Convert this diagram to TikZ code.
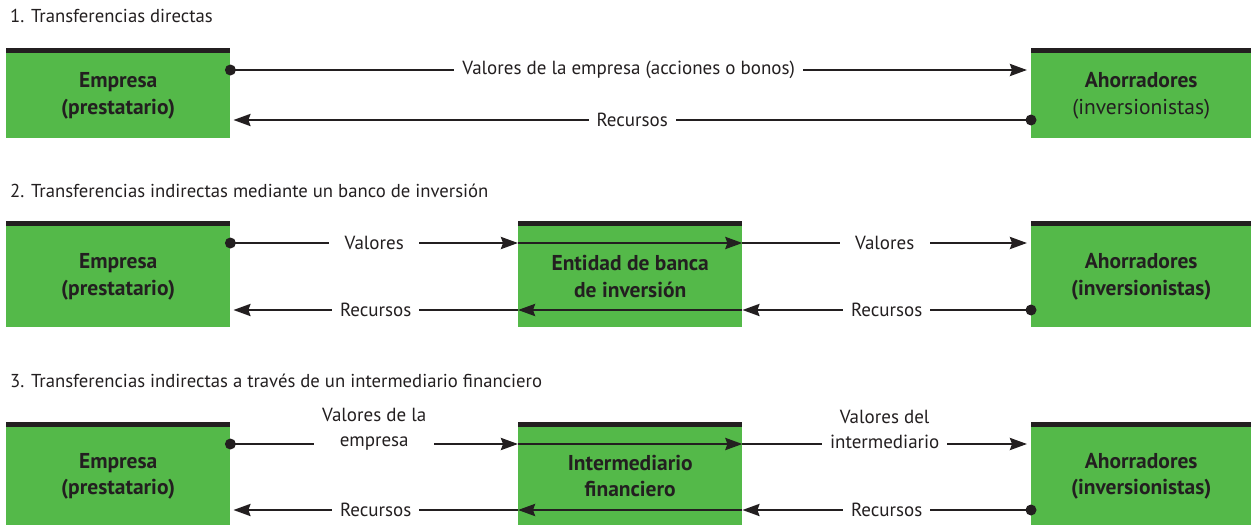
\documentclass[tikz,border=0pt]{standalone}
\usepackage{fontspec}
\setmainfont{PT Sans}
\usetikzlibrary{arrows.meta,calc}
\definecolor{gr}{RGB}{84,185,73}
\definecolor{ink}{RGB}{35,31,32}
\begin{document}
\begin{tikzpicture}[x=1pt,y=-1pt,
  box/.style={fill=gr, inner sep=0pt, align=center, anchor=north west,
    font=\fontsize{21.5}{26.5}\selectfont\bfseries, text=ink},
  lab/.style={fill=white, inner xsep=8pt, inner ysep=2pt, align=center,
    font=\fontsize{19}{25}\selectfont, text=ink},
  ttl/.style={anchor=base west, inner sep=0pt, font=\fontsize{18.7}{22}\selectfont, text=ink},
  con/.style={draw=ink, line width=2.6pt, -{Stealth[length=17pt,width=12pt,inset=2pt]}},
  dot/.style={circle, fill=ink, inner sep=0pt, minimum size=11pt}
]
\path[use as bounding box] (0,0) rectangle (1251,525);

% titles
\node[ttl] (t1) at (10,22) {1. Transferencias directas};
\node[ttl] (t2) at (10,197) {2. Transferencias indirectas mediante un banco de inversión};
\node[ttl] (t3) at (10,387) {3. Transferencias indirectas a través de un intermediario financiero};

% boxes
\node[box, minimum width=224pt, minimum height=85pt] (E1) at (6,53) {Empresa\\(prestatario)};
\node[box, minimum width=220pt, minimum height=85pt] (A1) at (1031,53) {Ahorradores\\\mdseries(inversionistas)};

\node[box, minimum width=224pt, minimum height=101pt] (E2) at (6,226) {Empresa\\(prestatario)};
\node[box, minimum width=224pt, minimum height=101pt] (M2) at (518,226) {Entidad de banca\\de inversión};
\node[box, minimum width=220pt, minimum height=101pt] (A2) at (1031,226) {Ahorradores\\(inversionistas)};

\node[box, minimum width=224pt, minimum height=98pt] (E3) at (6,427) {Empresa\\(prestatario)};
\node[box, minimum width=224pt, minimum height=98pt] (M3) at (518,427) {Intermediario\\financiero};
\node[box, minimum width=220pt, minimum height=98pt] (A3) at (1031,427) {Ahorradores\\(inversionistas)};

\foreach \n in {E1,A1,E2,M2,A2,E3,M3,A3}
  \fill[ink] ([yshift=5pt]\n.north west) rectangle (\n.north east);

% row 1
\coordinate (e1t) at ($(E1.north east)+(0,17)$);
\coordinate (a1t) at ($(A1.north west)+(-4,17)$);
\coordinate (a1b) at ($(A1.north west)+(0,67)$);
\coordinate (e1b) at ($(E1.north east)+(3,67)$);
\draw[con] (e1t) -- (a1t) node[lab, midway] {Valores de la empresa (acciones o bonos)};
\draw[con] (a1b) -- (e1b) node[lab, midway] {Recursos};
\node[dot] (d1a) at (e1t) {};
\node[dot] (d1b) at (a1b) {};

% row 2
\coordinate (e2t) at ($(E2.north east)+(0,17)$);
\coordinate (m2lt) at ($(M2.north west)+(0,17)$);
\coordinate (m2rt) at ($(M2.north east)+(0,17)$);
\coordinate (a2t) at ($(A2.north west)+(-4,17)$);
\coordinate (a2b) at ($(A2.north west)+(0,84)$);
\coordinate (m2rb) at ($(M2.north east)+(0,84)$);
\coordinate (m2lb) at ($(M2.north west)+(0,84)$);
\coordinate (e2b) at ($(E2.north east)+(3,84)$);
\draw[con] (e2t) -- (m2lt) node[lab, midway, minimum width=90pt] {Valores};
\draw[con] (m2lt) -- (m2rt);
\draw[con] (m2rt) -- (a2t) node[lab, midway, minimum width=90pt] {Valores};
\draw[con] (a2b) -- (m2rb) node[lab, midway] {Recursos};
\draw[con] (m2rb) -- (m2lb);
\draw[con] (m2lb) -- (e2b) node[lab, midway] {Recursos};
\node[dot] (d2a) at (e2t) {};
\node[dot] (d2b) at (a2b) {};

% row 3
\coordinate (e3t) at ($(E3.north east)+(0,17)$);
\coordinate (m3lt) at ($(M3.north west)+(0,17)$);
\coordinate (m3rt) at ($(M3.north east)+(0,17)$);
\coordinate (a3t) at ($(A3.north west)+(-4,17)$);
\coordinate (a3b) at ($(A3.north west)+(0,83)$);
\coordinate (m3rb) at ($(M3.north east)+(0,83)$);
\coordinate (m3lb) at ($(M3.north west)+(0,83)$);
\coordinate (e3b) at ($(E3.north east)+(3,83)$);
\draw[con] (e3t) -- (m3lt) node[lab, midway, yshift=15pt] {Valores de la\\empresa};
\draw[con] (m3lt) -- (m3rt);
\draw[con] (m3rt) -- (a3t) node[lab, midway, yshift=15pt] {Valores del\\intermediario};
\draw[con] (a3b) -- (m3rb) node[lab, midway] {Recursos};
\draw[con] (m3rb) -- (m3lb);
\draw[con] (m3lb) -- (e3b) node[lab, midway] {Recursos};
\node[dot] (d3a) at (e3t) {};
\node[dot] (d3b) at (a3b) {};
\end{tikzpicture}
\end{document}
